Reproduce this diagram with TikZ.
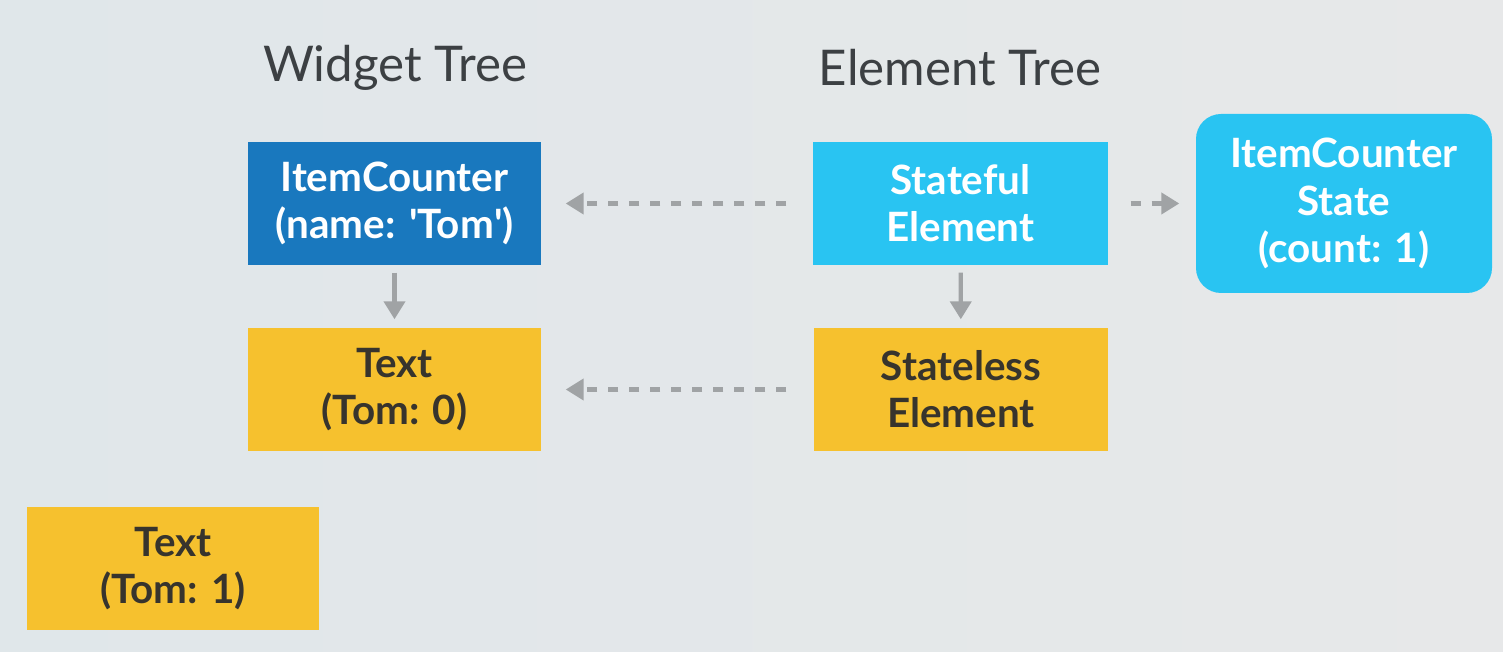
\documentclass[tikz,border=0pt]{standalone}
\usepackage{fontspec}
\setmainfont{Lato}
\usepackage{xcolor}
\usepackage{tikz}
\usetikzlibrary{arrows.meta, positioning, calc}
\frenchspacing
\definecolor{mybg}{RGB}{224,231,234}
\definecolor{mybgr}{RGB}{231,232,233}
\definecolor{mydeep}{RGB}{25,120,190}
\definecolor{mysky}{RGB}{41,196,242}
\definecolor{myyellow}{RGB}{246,193,46}
\definecolor{myink}{RGB}{55,52,45}
\definecolor{mytitle}{RGB}{60,64,67}
\definecolor{myarrow}{RGB}{160,163,165}
\tikzset{
  block/.style={rectangle, text width=2.9cm, align=center,
    minimum width=2.93cm, minimum height=1.23cm, inner sep=0pt,
    font=\fontsize{11.5}{13.4}\selectfont\bfseries},
  deepblock/.style={block, fill=mydeep, text=white},
  skyblock/.style={block, fill=mysky, text=white},
  yellowblock/.style={block, fill=myyellow, text=myink},
  title/.style={font=\fontsize{14}{17}\selectfont, text=mytitle},
  arrow/.style={-{Triangle[width=0.21cm, length=0.18cm]}, line width=1.2pt, color=myarrow},
  dasharrow/.style={arrow, dash pattern=on 0.1cm off 0.11cm}
}

\begin{document}
\begin{tikzpicture}
  % Background
  \useasboundingbox (0,0) rectangle (15.03,6.52);
  \shade[left color=mybg, right color=mybgr] (0,0) rectangle (15.03,6.52);

  % Titles
  \node[title] (wtitle) at (3.95, 5.84) {Widget Tree};
  \node[title] (etitle) at (9.6, 5.84) {Element Tree};

  % Widget tree (left)
  \node[deepblock] (counter) at (3.945, 4.485) {ItemCounter\\(name: \textquotesingle Tom\textquotesingle)};
  \node[yellowblock] (text0) at (3.945, 2.625) {Text\\(Tom: 0)};

  % Element tree (middle)
  \node[skyblock, minimum width=2.95cm] (stateful) at (9.605, 4.485) {Stateful\\Element};
  \node[yellowblock, minimum width=2.94cm] (stateless) at (9.61, 2.625) {Stateless\\Element};

  % State object (right)
  \node[skyblock, minimum width=2.96cm, minimum height=1.79cm, rounded corners=0.25cm] (state) at (13.44, 4.485) {ItemCounter\\State\\(count: 1)};

  % New widget (bottom left)
  \node[yellowblock, minimum width=2.92cm] (text1) at (1.73, 0.835) {Text\\(Tom: 1)};

  % Connections
  \draw[arrow, shorten <=0.07cm, shorten >=0.08cm] (counter) -- (text0);
  \draw[arrow, shorten <=0.07cm, shorten >=0.08cm] (stateful) -- (stateless);
  \draw[dasharrow, shorten <=0.26cm, shorten >=0.24cm] (stateful) -- (counter);
  \draw[dasharrow, shorten <=0.27cm, shorten >=0.24cm] (stateless) -- (text0);
  \draw[dasharrow, shorten <=0.22cm, shorten >=0.16cm] (stateful) -- (state);
\end{tikzpicture}
\end{document}
